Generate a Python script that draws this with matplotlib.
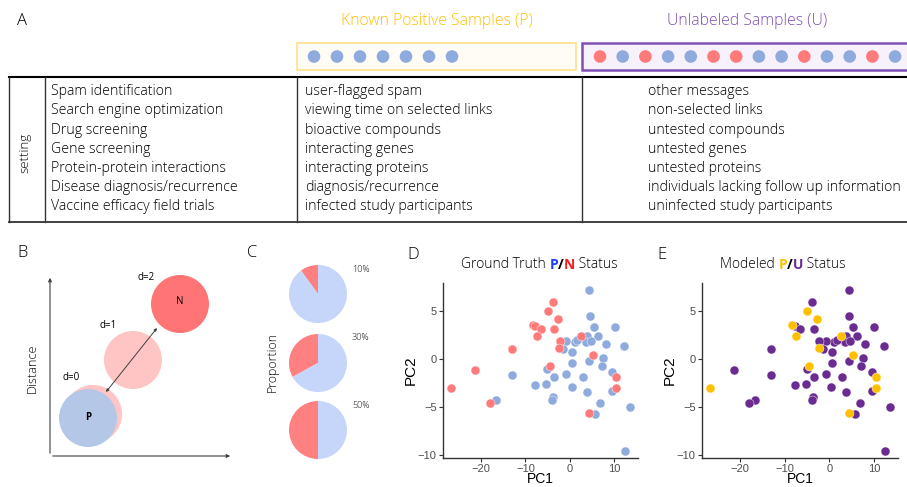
import matplotlib
matplotlib.use("Agg")
import matplotlib.pyplot as plt
from matplotlib.patches import Circle, Rectangle

# ---- data ----
pos_title = "Known Positive Samples (P)"
unl_title = "Unlabeled Samples (U)"
p_dots = ["P"] * 7
u_dots = ["N", "P", "N", "P", "P", "N", "N", "P", "P", "N", "P", "P", "N", "P"]

settings = ["Spam identification", "Search engine optimization", "Drug screening",
            "Gene screening", "Protein-protein interactions",
            "Disease diagnosis/recurrence", "Vaccine efficacy field trials"]
positives = ["user-flagged spam", "viewing time on selected links", "bioactive compounds",
             "interacting genes", "interacting proteins", "diagnosis/recurrence",
             "infected study participants"]
unlabeled = ["other messages", "non-selected links", "untested compounds",
             "untested genes", "untested proteins", "individuals lacking follow up information",
             "uninfected study participants"]

pie_neg_frac = [0.10, 0.33, 0.50]
pie_labels = ["10%", "30%", "50%"]

# ground truth N points (PC1, PC2) and whether modeled as P
n_pc1 = [-26.8, -21.4, -18.0, -13.1, -8.4, -7.8, -6.6, -7.5, -5.0, -3.8,
         -2.7, -3.5, -2.3, -2.4, -4.5, 2.5, 5.2, 10.5, 10.4, 4.3]
n_pc2 = [-3.1, -1.2, -4.6, 1.0, 3.5, 3.4, 3.1, 2.4, 5.0, 5.9,
         4.1, 3.1, 1.8, 1.1, -0.8, 2.4, 0.4, -1.9, -3.0, -5.7]
n_modeled_p = [1, 0, 0, 0, 1, 0, 0, 1, 1, 0, 1, 0, 0, 1, 1, 1, 1, 1, 1, 1]

# ground truth P points
p_pc1 = [4.3, 4.5, 5.4, 10.1, 6.3, 3.8, 3.6, 4.7, 1.1, 1.7, -0.8, -1.5, 0.5,
         8.1, 12.2, 4.3, 7.5, 0.5, 7.2, -5.1, 9.6, -0.8, -3.5, 2.9, -13.1,
         -7.8, -5.3, 0.4, 3.8, 9.6, -3.7, -4.0, 6.8, -16.7, 5.7, 13.6, 12.4]
p_pc2 = [7.2, 4.5, 3.3, 3.3, 2.4, 2.4, 1.7, 1.9, 1.7, 2.0, 1.8, 1.0, 0.7,
         1.5, 1.3, -0.2, 0.1, -0.4, -0.8, -1.1, -1.4, -1.6, -1.9, -1.9, -1.7,
         -2.7, -2.6, -2.9, -3.5, -3.4, -4.0, -4.3, -4.6, -4.3, -5.8, -5.0, -9.6]

RED = "#FF7B7B"
BLUE = "#8FAADC"
GOLD = "#FFC000"
PURPLE = "#6A2C91"

FONT = ["Open Sans", "DejaVu Sans"]
plt.rcParams["font.family"] = FONT

W, H = 907, 487
fig = plt.figure(figsize=(W / 100, H / 100), dpi=100)

# overlay axes in pixel coordinates
ov = fig.add_axes([0, 0, 1, 1])
ov.set_xlim(0, W)
ov.set_ylim(H, 0)
ov.axis("off")


def px_axes(left, top, right, bottom, **kw):
    return fig.add_axes([left / W, 1 - bottom / H, (right - left) / W, (bottom - top) / H], **kw)


# ---- panel A ----
ov.text(17, 21, "A", fontsize=12, va="center", ha="left", fontweight="light")
ov.text(437, 21, pos_title, color=GOLD, fontsize=11.3, ha="center", va="center", fontweight="light")
ov.text(747, 21, unl_title, color="#7F4FB5", fontsize=11.3, ha="center", va="center", fontweight="light")

ov.add_patch(Rectangle((297, 43), 279, 27, facecolor="#FFFCF5", edgecolor="#FFE08A", lw=1.2))
ov.add_patch(Rectangle((582, 43), 340, 27, facecolor="#F6F1FA", edgecolor="#7F4FB5", lw=1.8,
                       clip_on=True))
dot_col = {"P": BLUE, "N": RED}
for i, lab in enumerate(p_dots):
    ov.add_patch(Circle((314 + 23.0 * i, 56.5), 6.3, color=dot_col[lab], lw=0))
for i, lab in enumerate(u_dots):
    ov.add_patch(Circle((600 + 22.7 * i, 56.5), 6.3, color=dot_col[lab], lw=0))

# table
ov.plot([9, W], [77, 77], color="black", lw=1.5)
ov.plot([9, W], [222, 222], color="#333333", lw=1.3)
for x in [9, 45, 297, 582]:
    ov.plot([x, x], [77, 222], color="#333333", lw=1.0)
ov.text(25, 153, "setting", rotation=90, ha="center", va="center", fontsize=9.5, fontweight="light")
for i in range(len(settings)):
    y = 91.7 + 19.17 * i
    ov.text(51, y, settings[i], ha="left", va="center", fontsize=10.2, fontweight="light")
    ov.text(305, y, positives[i], ha="left", va="center", fontsize=10.2, fontweight="light")
    ov.text(648, y, unlabeled[i], ha="left", va="center", fontsize=10.2, fontweight="light")

# ---- panel B ----
ov.text(17, 253, "B", fontsize=12, va="center", ha="left", fontweight="light")
ov.annotate("", xy=(50, 275), xytext=(50, 456),
            arrowprops=dict(arrowstyle="-|>", color="#404040", lw=0.8, mutation_scale=5))
ov.annotate("", xy=(233, 456), xytext=(50, 456),
            arrowprops=dict(arrowstyle="-|>", color="#404040", lw=0.8, mutation_scale=5))
ov.text(32, 368, "Distance", rotation=90, ha="center", va="center", fontsize=9.2, fontweight="light")

ov.add_patch(Circle((93, 414), 29, color="#FFC4C4", lw=0))
ov.add_patch(Circle((88, 418), 29, color="#B4C7E7", lw=0))
ov.add_patch(Circle((133, 360), 29, color="#FFC4C4", lw=0))
ov.add_patch(Circle((180, 304), 29, color="#FF7575", lw=0))
ov.text(88, 418, "P", ha="center", va="center", fontsize=7, fontweight="bold")
ov.text(180, 301, "N", ha="center", va="center", fontsize=7)
ov.text(71, 377, "d=0", ha="center", va="center", fontsize=7)
ov.text(108, 326, "d=1", ha="center", va="center", fontsize=7)
ov.text(146, 277, "d=2", ha="center", va="center", fontsize=7)
ov.annotate("", xy=(106, 392), xytext=(157, 328),
            arrowprops=dict(arrowstyle="<|-|>", color="#404040", lw=0.7, mutation_scale=4,
                            shrinkA=0, shrinkB=0))

# ---- panel C ----
ov.text(247, 253, "C", fontsize=12, va="center", ha="left", fontweight="light")
ov.text(272, 362, "Proportion", rotation=90, ha="center", va="center", fontsize=8.8, fontweight="light")
pie_cy = [294, 363, 430]
for cy, frac, lab in zip(pie_cy, pie_neg_frac, pie_labels):
    pax = px_axes(318 - 29, cy - 29, 318 + 29, cy + 29)
    pax.pie([frac, 1 - frac], colors=["#FF8080", "#C5D6FA"], startangle=90,
            counterclock=True, radius=1.0, wedgeprops=dict(lw=0))
    pax.set_xlim(-1, 1)
    pax.set_ylim(-1, 1)
    ov.text(352, cy - 25, lab, fontsize=6.5, ha="left", va="center", fontweight="light")


# ---- panels D and E ----
def scatter_panel(left, right, letter, lx, parts):
    ax = px_axes(left, 283, right, 458)
    ax.set_xlim(-28.6, 15.4)
    ax.set_ylim(-10.35, 7.9)
    ax.set_xticks([-20, -10, 0, 10])
    ax.set_yticks([-10, -5, 0, 5])
    for s in ["top", "right"]:
        ax.spines[s].set_visible(False)
    for s in ["left", "bottom"]:
        ax.spines[s].set_color("#333333")
        ax.spines[s].set_linewidth(1.0)
    ax.tick_params(length=3, width=0.8, color="#333333", labelsize=8, labelcolor="#4D4D4D",
                   pad=1.5)
    for t in ax.get_xticklabels() + ax.get_yticklabels():
        t.set_fontfamily("Liberation Sans")
    ax.set_xlabel("PC1", fontsize=10, family="Liberation Sans", labelpad=-1.5)
    ax.set_ylabel("PC2", fontsize=11, family="Liberation Sans", labelpad=0)
    ov.text(lx, 255, letter, fontsize=12, va="center", ha="left", fontweight="light")
    # multi-colour title
    prev = None
    for txt, col, wt in parts:
        if prev is None:
            prev = ov.text(left + 18, 268, txt, color=col, fontsize=10, fontweight=wt,
                           ha="left", va="baseline")
        else:
            prev = ov.annotate(txt, xy=(1, 0), xycoords=prev, color=col, fontsize=10,
                               fontweight=wt, ha="left", va="bottom")
    return ax


axd = scatter_panel(443, 638, "D", 407,
                    [("Ground Truth ", "black", "light"), ("P", "#1A3CFF", "bold"),
                     ("/", "black", "bold"), ("N", "#FF1A1A", "bold"), (" Status", "black", "light")])
axd.scatter(p_pc1, p_pc2, s=42, color=BLUE, edgecolor="white", linewidth=0.3, zorder=3)
axd.scatter(n_pc1, n_pc2, s=42, color=RED, edgecolor="white", linewidth=0.3, zorder=3)

axe = scatter_panel(702, 898, "E", 657,
                    [("Modeled ", "black", "light"), ("P", GOLD, "bold"),
                     ("/", "black", "bold"), ("U", PURPLE, "bold"), (" Status", "black", "light")])
u_x = p_pc1 + [x for x, m in zip(n_pc1, n_modeled_p) if not m]
u_y = p_pc2 + [y for y, m in zip(n_pc2, n_modeled_p) if not m]
mp_x = [x for x, m in zip(n_pc1, n_modeled_p) if m]
mp_y = [y for y, m in zip(n_pc2, n_modeled_p) if m]
axe.scatter(u_x, u_y, s=42, color=PURPLE, edgecolor="white", linewidth=0.3, zorder=3)
axe.scatter(mp_x, mp_y, s=42, color=GOLD, edgecolor="white", linewidth=0.3, zorder=3)

fig.savefig("out.png", dpi=100)
